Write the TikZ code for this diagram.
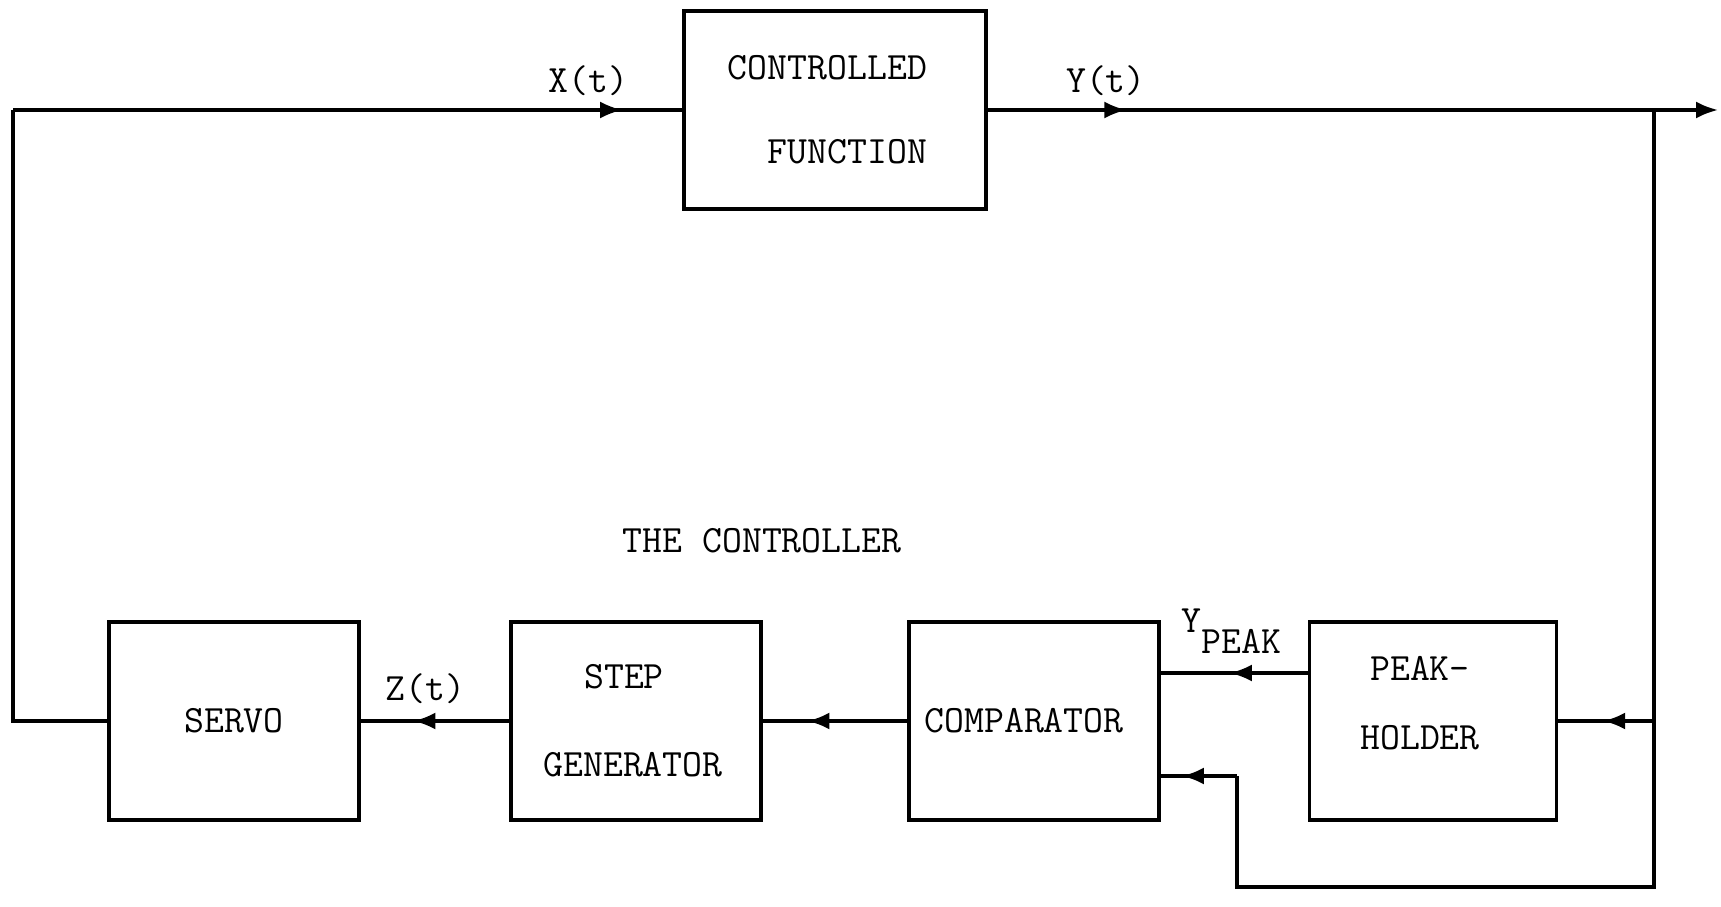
\documentclass[tikz,border=0pt]{standalone}
\usepackage{fontspec}
\usepackage{tikz}
\usetikzlibrary{arrows.meta, calc, positioning, decorations.markings}

\tikzset{
    block/.style={draw, line width=0.9pt, minimum width=2.5cm, minimum height=1.98cm, align=center, font=\ttfamily\fontsize{11}{13}\selectfont},
    wire/.style={line width=0.9pt},
    flow/.style={wire, postaction={decorate}, decoration={markings, mark=at position #1 with {\arrow{Latex[length=2.2mm,width=1.7mm]}}}},
    lbl/.style={font=\ttfamily\fontsize{11}{13}\selectfont}
}

\begin{document}
\begin{tikzpicture}
    \useasboundingbox (0,0) rectangle (17.21,9.06);
    % plant
    \node[block, minimum width=3.02cm] (ctrl) at (8.35,7.96) {CONTROLLED\hspace*{1.5mm}\\[3.8mm]\hspace*{2.5mm}FUNCTION};
    % controller blocks
    \node[block] (servo) at (2.34,1.85) {SERVO};
    \node[block] (step) at (6.36,1.85) {STEP\hspace*{2.4mm}\\[4.2mm]GENERATOR\hspace*{0.6mm}};
    \node[block] (comp) at (10.34,1.85) {COMPARATOR\hspace*{2mm}};
    \node[block, minimum width=2.47cm] (ph) at (14.33,1.85) {\hspace*{-2.6mm}PEAK-\\[2.4mm]\hspace*{-2.6mm}HOLDER\\[-2.3mm]\strut};
    \node[lbl] (title) at (7.62,3.65) {THE CONTROLLER};
    % corner points
    \coordinate (lt) at (0.13,7.96);
    \coordinate (br) at (16.54,7.96);
    \coordinate (out) at (17.18,7.96);
    \coordinate (bot) at (12.37,0.19);
    % forward path
    \draw[wire] (servo.west) -| (lt);
    \draw[flow=0.91] (lt) -- (ctrl.west) node[lbl, pos=0.86, above=0.1mm] (xt) {X(t)};
    \draw[flow=0.19, -{Latex[length=2.2mm,width=1.7mm]}] (ctrl.east) -- (out) node[lbl, pos=0.162, above=0.1mm] (yt) {Y(t)};
    % feedback
    \draw[wire] (br) |- (bot) -- ++(0,1.11) coordinate (kink);
    \draw[flow=0.72] (kink) -- (kink -| comp.east);
    \draw[flow=0.53] (ph.east -| br) -- (ph.east);
    \draw[flow=0.53] ([yshift=4.8mm]ph.west) -- ([yshift=4.8mm]ph.west -| comp.east) node[lbl, pos=0.52, above=0.6mm] (ypk) {Y\raisebox{-1.3ex}{PEAK}};
    \draw[flow=0.69] (comp.west) -- (comp.west -| step.east);
    \draw[flow=0.645] (step.west) -- (step.west -| servo.east) node[lbl, pos=0.566, above=0.4mm] (zt) {Z(t)};
\end{tikzpicture}
\end{document}
